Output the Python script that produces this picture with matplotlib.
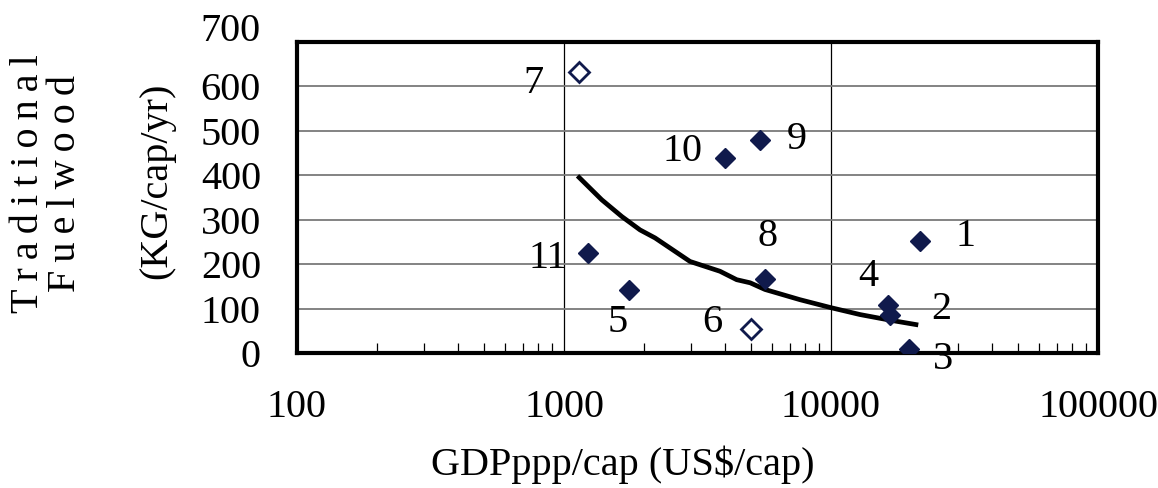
import matplotlib
matplotlib.use("Agg")
import matplotlib.pyplot as plt
import matplotlib.transforms as mtransforms
from matplotlib.ticker import LogLocator, FixedLocator, NullFormatter

plt.rcParams["font.family"] = ["Liberation Serif", "DejaVu Serif"]

# country points (GDPppp/cap, fuelwood kg/cap/yr)
labels = ["1", "2", "3", "4", "5", "6", "7", "8", "9", "10", "11"]
gdp = [21500, 16600, 19600, 16350, 1750, 5010, 1138, 5660, 5420, 4010, 1230]
fuelwood = [253, 86, 8, 109, 141, 53, 632, 167, 480, 440, 226]
is_open = [False, False, False, False, False, True, True, False, False, False, False]

# fitted trend curve
trend_gdp = [1140, 1384, 1648, 1927, 2193, 2965, 3838, 4433, 4980, 5660,
             7650, 10000, 12850, 16600, 20800]
trend_fw = [395, 345, 307, 277, 259, 206, 184, 165, 158, 143,
            120, 102, 86.5, 74, 64]

# label offsets in pixels from each point
label_offsets = {
    "1": (46, 4), "2": (52, 5), "3": (34, -10), "4": (-20, 28),
    "5": (-11, -32), "6": (-38, 7), "7": (-46, -11), "8": (3, 42),
    "9": (37, 0), "10": (-43, 6), "11": (-40, -6),
}

navy = "#101a4c"
fs = 29

fig = plt.figure(figsize=(11.58, 4.88), dpi=100)
ax = fig.add_axes([297 / 1158, 1 - 353 / 488, 801 / 1158, 311 / 488])

ax.set_xscale("log")
ax.set_xlim(100, 100000)
ax.set_ylim(0, 700)

# grid
ax.set_yticks(range(0, 701, 100))
ax.yaxis.grid(True, color="#7a7a7a", linewidth=1.3)
ax.xaxis.grid(True, which="major", color="black", linewidth=0.9)
ax.set_axisbelow(True)

ax.plot(trend_gdp, trend_fw, color="black", linewidth=3.4, zorder=3)

for lab, x, y, op in zip(labels, gdp, fuelwood, is_open):
    ax.plot(x, y, marker="D", markersize=10.5, linestyle="none",
            markerfacecolor="white" if op else navy,
            markeredgecolor=navy, markeredgewidth=2.0 if op else 1.0, zorder=4)
    dx, dy = label_offsets[lab]
    ax.annotate(lab, (x, y), xytext=(dx, dy), textcoords="offset pixels",
                ha="center", va="center", fontsize=fs, zorder=5)

for s in ax.spines.values():
    s.set_linewidth(3.0)
    s.set_color("black")

ax.xaxis.set_major_locator(FixedLocator([100, 1000, 10000, 100000]))
ax.set_xticklabels(["100", "1000", "10000", "100000"])
ax.xaxis.set_minor_locator(LogLocator(base=10, subs=range(2, 10), numticks=20))
ax.xaxis.set_minor_formatter(NullFormatter())
ax.tick_params(axis="x", which="major", direction="in", length=0, pad=26,
               labelsize=fs)
ax.tick_params(axis="x", which="minor", direction="in", length=7, width=0.9)
ax.tick_params(axis="y", which="both", length=0, pad=26, labelsize=fs)

# top tick label sits a little above its gridline in the original
top_lab = ax.get_yticklabels()[-1]
top_lab.set_transform(top_lab.get_transform() +
                      mtransforms.ScaledTranslation(0, 0.15, fig.dpi_scale_trans))

ts = "\u2009"
fig.text(47 / 1158, 1 - 184 / 488,
         ts.join("Traditional") + "\n" + ts.join("Fuelwood"),
         rotation=90, ha="center", va="center", fontsize=fs, linespacing=1.0,
         multialignment="center")
fig.text(157 / 1158, 1 - 181 / 488, "(KG/cap/yr)", rotation=90,
         ha="center", va="center", fontsize=fs)
fig.text(623 / 1158, 1 - 465 / 488, "GDPppp/cap (US$/cap)",
         ha="center", va="center", fontsize=fs)

fig.savefig("out.png", dpi=100)
